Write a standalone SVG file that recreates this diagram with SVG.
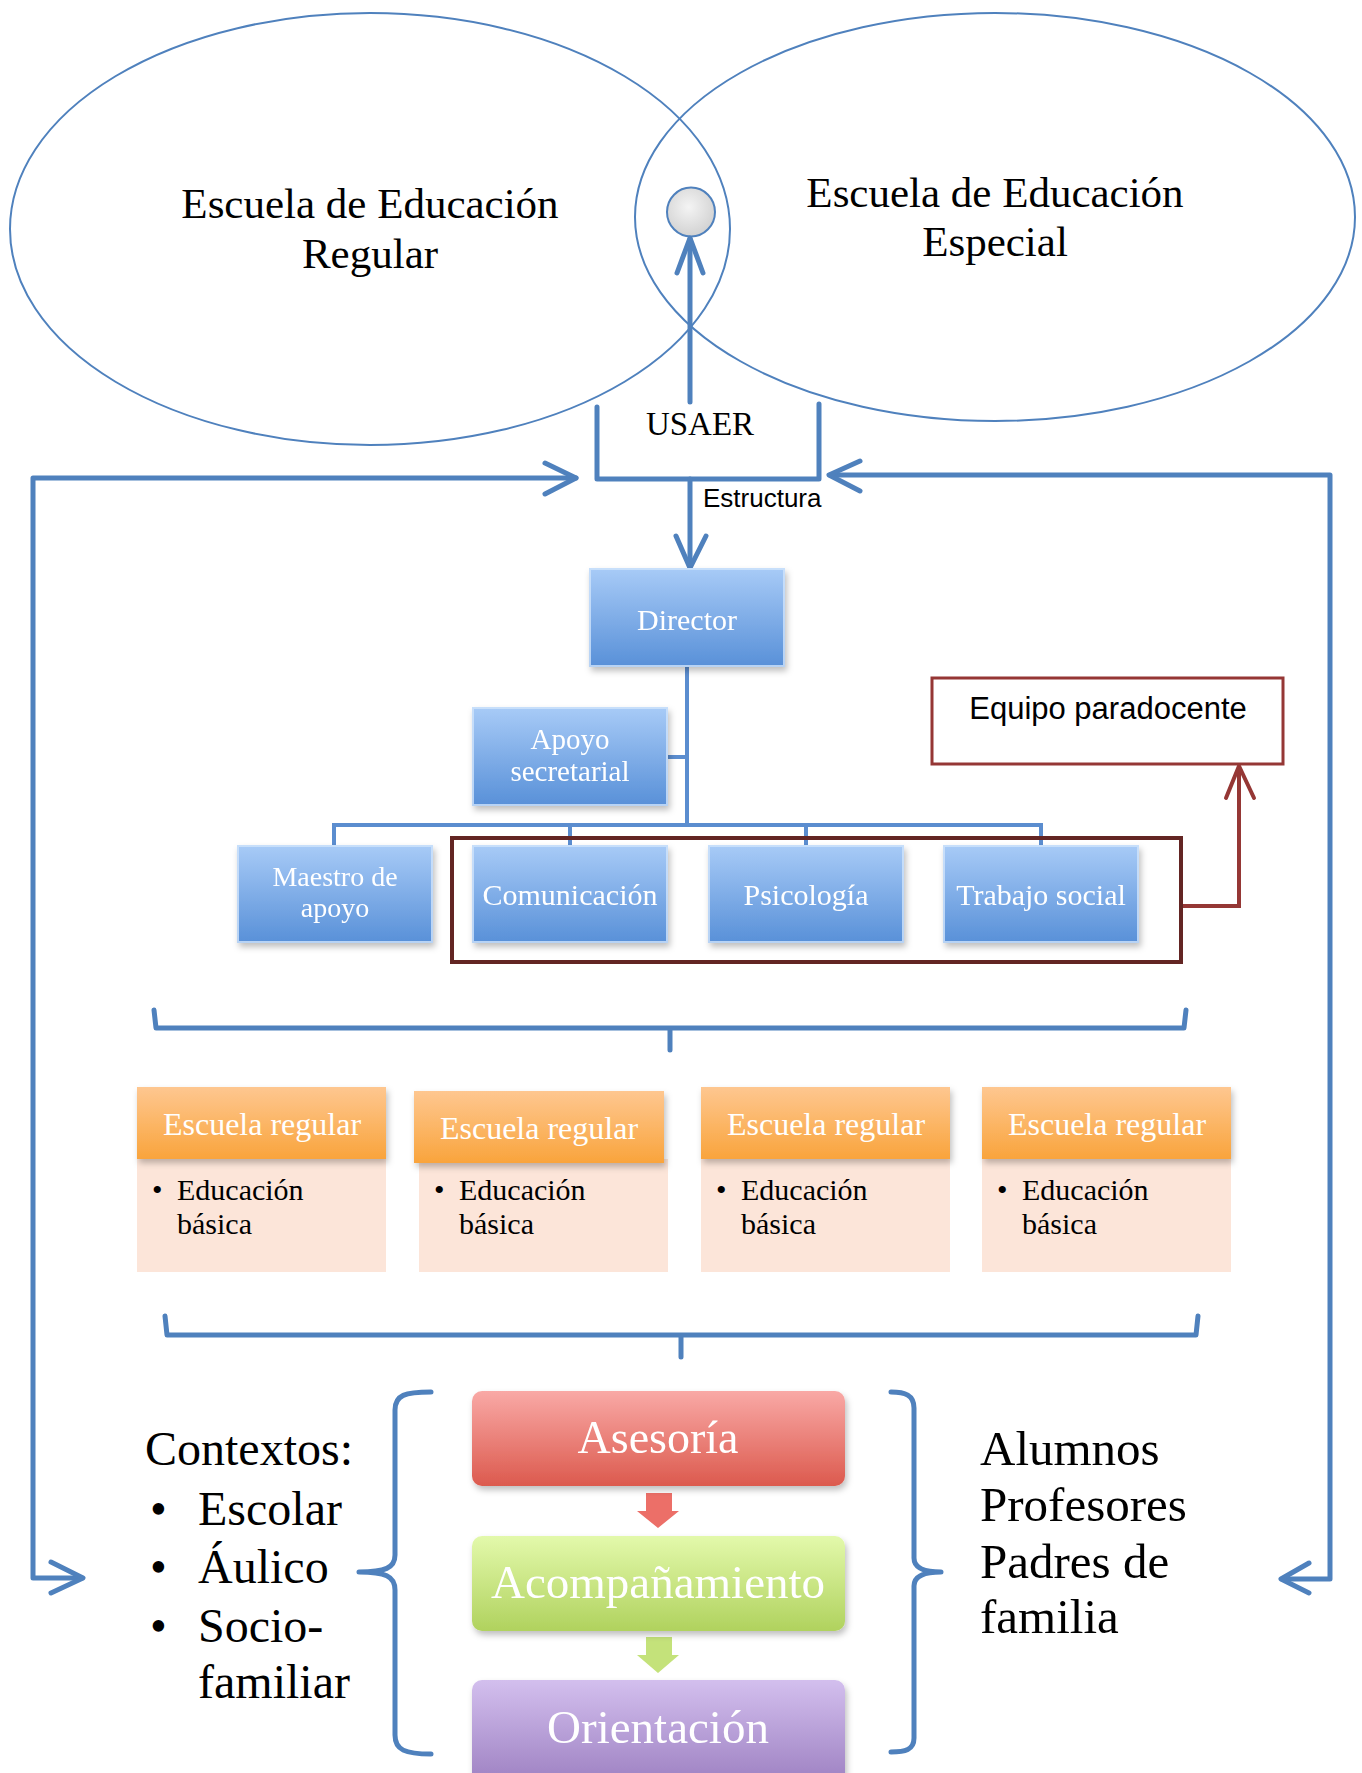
<svg xmlns="http://www.w3.org/2000/svg" width="1362" height="1773" viewBox="0 0 1362 1773">
<defs>
<style>
.serif{font-family:"Liberation Serif","Times New Roman",serif}
.sans{font-family:"Liberation Sans",Arial,sans-serif}
.conn{fill:none;stroke:#4f81bd;stroke-width:5;stroke-linecap:round;stroke-linejoin:round}
.org{fill:none;stroke:#5b8dcf;stroke-width:4}
.ell{fill:none;stroke:#4f81bd;stroke-width:2}
.wt{fill:#ffffff}
.bk{fill:#000000}
.bev{fill:none;stroke:#cfe3fb;stroke-width:2;opacity:0.8}
</style>
<linearGradient id="gBlue" x1="0" y1="0" x2="0" y2="1">
<stop offset="0" stop-color="#a8cbf7"/><stop offset="1" stop-color="#5890d8"/>
</linearGradient>
<linearGradient id="gOrange" x1="0" y1="0" x2="0" y2="1">
<stop offset="0" stop-color="#fec790"/><stop offset="1" stop-color="#f9a43c"/>
</linearGradient>
<linearGradient id="gRed" x1="0" y1="0" x2="0" y2="1">
<stop offset="0" stop-color="#f9a9a6"/><stop offset="1" stop-color="#dc5a4e"/>
</linearGradient>
<linearGradient id="gGreen" x1="0" y1="0" x2="0" y2="1">
<stop offset="0" stop-color="#e3f9ab"/><stop offset="1" stop-color="#b0d25e"/>
</linearGradient>
<linearGradient id="gPurple" x1="0" y1="0" x2="0" y2="1">
<stop offset="0" stop-color="#d3bfee"/><stop offset="1" stop-color="#9a7dbf"/>
</linearGradient>
<radialGradient id="gGrey" cx="0.45" cy="0.4" r="0.6">
<stop offset="0" stop-color="#f4f4f4"/><stop offset="1" stop-color="#d2d2d2"/>
</radialGradient>
<filter id="sh" x="-20%" y="-20%" width="140%" height="150%">
<feDropShadow dx="2" dy="4" stdDeviation="3" flood-color="#000" flood-opacity="0.25"/>
</filter>
</defs>

<g id="ellipse-regular">
<ellipse class="ell" cx="370" cy="229" rx="360" ry="216"/>
<text class="serif bk" font-size="43" text-anchor="middle" x="370" y="218">Escuela de Educación</text>
<text class="serif bk" font-size="43" text-anchor="middle" x="370" y="268">Regular</text>
</g>
<g id="ellipse-especial">
<ellipse class="ell" cx="995" cy="217" rx="360" ry="204"/>
<text class="serif bk" font-size="43" text-anchor="middle" x="995" y="207">Escuela de Educación</text>
<text class="serif bk" font-size="43" text-anchor="middle" x="995" y="256">Especial</text>
</g>
<g id="usaer-point">
<ellipse cx="691" cy="212" rx="24" ry="24.5" fill="url(#gGrey)" stroke="#4f81bd" stroke-width="2"/>
</g>
<g id="usaer">
<text class="serif bk" font-size="33" text-anchor="middle" x="700" y="435">USAER</text>
</g>

<g id="connectors">
<path class="conn" d="M597,407 L597,479 L819,479 L819,404"/>
<path class="conn" d="M690,402 L690,239"/>
<path class="conn" d="M677,273 L690,238 L703,273"/>
<path class="conn" d="M690,479 L690,566"/>
<path class="conn" d="M676,536 L690,568 L706,536"/>
<path class="conn" d="M576,478 L33,478 L33,1578 L82,1578"/>
<path class="conn" d="M545,463 L576,478 L545,494"/>
<path class="conn" d="M51,1562 L83,1578 L51,1593"/>
<path class="conn" d="M830,475 L1330,475 L1330,1579 L1282,1579"/>
<path class="conn" d="M860,461 L829,475 L860,491"/>
<path class="conn" d="M1309,1563 L1281,1579 L1309,1593"/>
<path class="org" d="M687,667 L687,827 M668,757 L687,757 M334,825 L1041,825 M334,823 L334,845 M570,823 L570,845 M806,823 L806,845 M1041,823 L1041,845"/>
<path fill="none" stroke="#953735" stroke-width="4" d="M1181,906 L1239,906 L1239,768"/>
<path fill="none" stroke="#953735" stroke-width="4" stroke-linecap="round" stroke-linejoin="round" d="M1226,798 L1239,766 L1254,798"/>
<path class="conn" d="M154,1010 L156,1028 L1184,1028 L1186,1010 M670,1028 L670,1050"/>
<path class="conn" d="M165,1316 L167,1335 L1196,1335 L1198,1316 M681,1335 L681,1357"/>
<path class="conn" d="M431,1392 C405,1392 395,1395 395,1410 L395,1555 C395,1568 385,1572 359,1572 C385,1572 395,1576 395,1590 L395,1735 C395,1750 405,1754 431,1754"/>
<path class="conn" d="M891,1392 C905,1392 914,1395 914,1408 L914,1558 C914,1569 925,1572 941,1572 C925,1572 914,1575 914,1586 L914,1738 C914,1750 905,1752 891,1752"/>
<path d="M646,1493 L672,1493 L672,1511 L679,1511 L658,1528 L637,1511 L646,1511 Z" fill="#ec6f68"/>
<path d="M646,1637 L672,1637 L672,1655 L679,1655 L658,1673 L637,1655 L646,1655 Z" fill="#c4e27a"/>
</g>

<g id="estructura-label">
<text class="sans bk" font-size="26" x="703" y="507">Estructura</text>
</g>

<g id="director" filter="url(#sh)">
<rect x="589" y="568" width="196" height="99" fill="url(#gBlue)"/>
<rect class="bev" x="590" y="569" width="194" height="97"/>
<text class="serif wt" font-size="30" text-anchor="middle" x="687" y="630">Director</text>
</g>
<g id="apoyo-secretarial" filter="url(#sh)">
<rect x="472" y="707" width="196" height="99" fill="url(#gBlue)"/>
<rect class="bev" x="473" y="708" width="194" height="97"/>
<text class="serif wt" font-size="29" text-anchor="middle" x="570" y="749">Apoyo</text>
<text class="serif wt" font-size="29" text-anchor="middle" x="570" y="781">secretarial</text>
</g>
<g id="maestro-apoyo" filter="url(#sh)">
<rect x="237" y="845" width="196" height="98" fill="url(#gBlue)"/>
<rect class="bev" x="238" y="846" width="194" height="96"/>
<text class="serif wt" font-size="28" text-anchor="middle" x="335" y="886">Maestro de</text>
<text class="serif wt" font-size="28" text-anchor="middle" x="335" y="917">apoyo</text>
</g>
<g id="comunicacion" filter="url(#sh)">
<rect x="472" y="845" width="196" height="98" fill="url(#gBlue)"/>
<rect class="bev" x="473" y="846" width="194" height="96"/>
<text class="serif wt" font-size="30" text-anchor="middle" x="570" y="905">Comunicación</text>
</g>
<g id="psicologia" filter="url(#sh)">
<rect x="708" y="845" width="196" height="98" fill="url(#gBlue)"/>
<rect class="bev" x="709" y="846" width="194" height="96"/>
<text class="serif wt" font-size="30" text-anchor="middle" x="806" y="905">Psicología</text>
</g>
<g id="trabajo-social" filter="url(#sh)">
<rect x="943" y="845" width="196" height="98" fill="url(#gBlue)"/>
<rect class="bev" x="944" y="846" width="194" height="96"/>
<text class="serif wt" font-size="30" text-anchor="middle" x="1041" y="905">Trabajo social</text>
</g>
<g id="equipo-group">
<rect x="452" y="838" width="729" height="124" fill="none" stroke="#632523" stroke-width="4"/>
</g>
<g id="equipo-paradocente">
<rect x="932" y="678" width="351" height="86" fill="#ffffff" stroke="#953735" stroke-width="3"/>
<text class="sans bk" font-size="31" text-anchor="middle" x="1108" y="719">Equipo paradocente</text>
</g>

<g id="escuela-1">
<rect x="137" y="1159" width="249" height="113" fill="#fce5d9"/>
<rect x="137" y="1087" width="249" height="72" fill="url(#gOrange)" filter="url(#sh)"/>
<text class="serif wt" font-size="32" text-anchor="middle" x="262" y="1135">Escuela regular</text>
<text class="serif bk" font-size="30" x="152" y="1200">•</text>
<text class="serif bk" font-size="30" x="177" y="1200">Educación</text>
<text class="serif bk" font-size="30" x="177" y="1234">básica</text>
</g>
<g id="escuela-2">
<rect x="419" y="1159" width="249" height="113" fill="#fce5d9"/>
<rect x="414" y="1091" width="250" height="72" fill="url(#gOrange)" filter="url(#sh)"/>
<text class="serif wt" font-size="32" text-anchor="middle" x="539" y="1139">Escuela regular</text>
<text class="serif bk" font-size="30" x="434" y="1200">•</text>
<text class="serif bk" font-size="30" x="459" y="1200">Educación</text>
<text class="serif bk" font-size="30" x="459" y="1234">básica</text>
</g>
<g id="escuela-3">
<rect x="701" y="1159" width="249" height="113" fill="#fce5d9"/>
<rect x="701" y="1087" width="249" height="72" fill="url(#gOrange)" filter="url(#sh)"/>
<text class="serif wt" font-size="32" text-anchor="middle" x="826" y="1135">Escuela regular</text>
<text class="serif bk" font-size="30" x="716" y="1200">•</text>
<text class="serif bk" font-size="30" x="741" y="1200">Educación</text>
<text class="serif bk" font-size="30" x="741" y="1234">básica</text>
</g>
<g id="escuela-4">
<rect x="982" y="1159" width="249" height="113" fill="#fce5d9"/>
<rect x="982" y="1087" width="249" height="72" fill="url(#gOrange)" filter="url(#sh)"/>
<text class="serif wt" font-size="32" text-anchor="middle" x="1107" y="1135">Escuela regular</text>
<text class="serif bk" font-size="30" x="997" y="1200">•</text>
<text class="serif bk" font-size="30" x="1022" y="1200">Educación</text>
<text class="serif bk" font-size="30" x="1022" y="1234">básica</text>
</g>

<g id="asesoria" filter="url(#sh)">
<rect x="472" y="1391" width="373" height="95" rx="10" fill="url(#gRed)"/>
<text class="serif wt" font-size="46" text-anchor="middle" x="658" y="1453">Asesoría</text>
</g>
<g id="acompanamiento" filter="url(#sh)">
<rect x="472" y="1536" width="373" height="95" rx="10" fill="url(#gGreen)"/>
<text class="serif wt" font-size="47" text-anchor="middle" x="658" y="1598">Acompañamiento</text>
</g>
<g id="orientacion" filter="url(#sh)">
<rect x="472" y="1680" width="373" height="110" rx="10" fill="url(#gPurple)"/>
<text class="serif wt" font-size="47" text-anchor="middle" x="658" y="1743">Orientación</text>
</g>

<g id="contextos">
<text class="serif bk" font-size="48" x="145" y="1465">Contextos:</text>
<text class="serif bk" font-size="48" x="150" y="1525">•</text>
<text class="serif bk" font-size="48" x="198" y="1525">Escolar</text>
<text class="serif bk" font-size="48" x="150" y="1583">•</text>
<text class="serif bk" font-size="48" x="198" y="1583">Áulico</text>
<text class="serif bk" font-size="48" x="150" y="1642">•</text>
<text class="serif bk" font-size="48" x="198" y="1642">Socio-</text>
<text class="serif bk" font-size="48" x="198" y="1698">familiar</text>
</g>
<g id="destinatarios">
<text class="serif bk" font-size="49" x="980" y="1465">Alumnos</text>
<text class="serif bk" font-size="49" x="980" y="1521">Profesores</text>
<text class="serif bk" font-size="49" x="980" y="1578">Padres de</text>
<text class="serif bk" font-size="49" x="980" y="1633">familia</text>
</g>
</svg>
